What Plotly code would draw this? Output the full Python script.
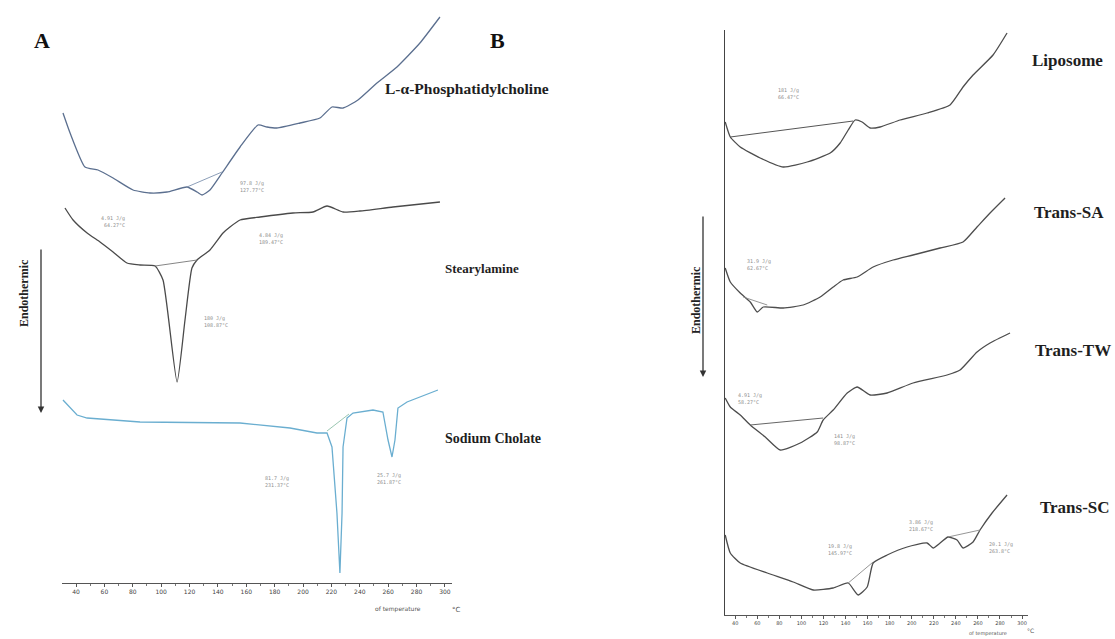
import plotly.graph_objects as go

W, H = 1115, 639

# ---------------- Panel A data (temperature °C, heat flow a.u., stacked) ----------------
pc_T = [30.8, 35.8, 46.3, 55.5, 66.1, 80.2, 92.1, 104.1, 118.2, 125.3, 128.8, 134.4, 142.9,
        155.6, 168.3, 174.6, 181.6, 197.9, 211.9, 220.4, 228.2, 238.7, 252.1, 266.2, 282.4, 296.5]
pc_Y = [47.0, 45.0, 41.6, 41.3, 40.5, 39.3, 39.0, 39.1, 39.6, 39.1, 38.8, 39.3, 41.0,
        43.6, 45.8, 45.6, 45.5, 46.0, 46.5, 47.6, 47.5, 48.3, 50.0, 51.6, 54.0, 56.6]
pc_base_T = [118.2, 142.9]
pc_base_Y = [39.6, 41.1]

sa_T = [32.2, 37.9, 47.8, 56.9, 66.1, 75.9, 85.1, 95.7, 101.3, 111.2, 116.8, 121.7, 125.3,
        134.4, 143.6, 148.5, 155.6, 169.7, 192.9, 207.0, 216.9, 228.2, 240.1, 263.4, 296.5]
sa_Y = [37.5, 36.3, 35.0, 34.1, 33.1, 32.0, 31.8, 31.7, 30.3, 20.1, 26.3, 31.5, 32.3,
        33.3, 35.0, 35.6, 36.3, 36.6, 37.0, 37.1, 37.7, 37.1, 37.2, 37.6, 38.1]
sa_base_T = [95.7, 125.3]
sa_base_Y = [31.7, 32.3]

sc_T = [30.8, 35.8, 40.7, 47.8, 85.1, 155.6, 190.8, 209.8, 216.9, 220.4, 223.9, 226.0, 227.5,
        228.2, 231.0, 235.2, 249.3, 256.3, 259.9, 262.7, 264.8, 266.9, 273.3, 295.1]
sc_Y = [18.3, 17.5, 16.8, 16.5, 16.1, 16.0, 15.5, 15.0, 15.0, 13.6, 7.0, 1.0, 7.0,
        13.6, 16.5, 17.0, 17.3, 17.1, 14.3, 12.6, 14.3, 17.5, 18.1, 19.3]
sc_base_T = [216.9, 232.4]
sc_base_Y = [15.2, 16.9]

# ---------------- Panel B data ----------------
lip_T = [30.9, 35.5, 44.5, 62.6, 83.5, 105.2, 126.1, 135.1, 142.4, 148.7, 155.0, 162.3, 171.3,
         189.5, 213.9, 234.7, 246.5, 255.6, 273.7, 286.4]
lip_Y = [49.3, 47.8, 46.8, 45.7, 44.8, 45.3, 46.2, 47.2, 48.5, 49.5, 49.3, 48.7, 48.8,
         49.5, 50.2, 51.0, 52.8, 54.0, 56.0, 58.2]
lip_base_T = [35.5, 146.9]
lip_base_Y = [47.8, 49.4]

tsa_T = [30.9, 35.5, 44.5, 53.6, 59.9, 65.4, 83.5, 101.6, 117.0, 128.8, 137.8, 150.5, 165.0,
         183.1, 201.2, 225.7, 246.5, 259.2, 271.0, 284.6]
tsa_Y = [34.7, 33.3, 32.2, 31.3, 30.3, 30.8, 30.7, 31.0, 31.8, 32.8, 33.5, 33.8, 34.8,
         35.5, 36.0, 36.7, 37.3, 38.8, 40.2, 41.7]
tsa_base_T = [47.2, 69.0]
tsa_base_Y = [31.8, 31.0]

ttw_T = [30.9, 35.5, 44.5, 53.6, 67.2, 80.8, 98.9, 114.3, 119.7, 128.8, 141.5, 150.5, 162.3,
         177.7, 201.2, 232.0, 243.8, 259.2, 271.0, 289.1]
ttw_Y = [21.7, 20.8, 20.0, 19.0, 17.8, 16.5, 17.2, 18.3, 19.5, 20.5, 22.2, 22.8, 22.0,
         22.2, 23.2, 24.0, 24.5, 26.3, 27.2, 28.2]
ttw_base_T = [53.6, 119.7]
ttw_base_Y = [19.0, 19.7]

tsc_T = [30.9, 35.5, 44.5, 69.0, 92.5, 110.7, 128.8, 142.4, 151.4, 159.6, 165.0, 177.7, 195.8,
         213.9, 219.4, 225.7, 232.9, 241.1, 246.5, 255.6, 261.9, 272.8, 286.4]
tsc_Y = [8.0, 6.2, 5.2, 4.2, 3.3, 2.5, 2.7, 3.2, 2.0, 2.8, 5.2, 6.0, 6.8,
         7.2, 6.7, 7.2, 7.8, 7.5, 6.7, 7.3, 8.5, 10.2, 12.0]
tsc_base1_T = [142.4, 165.0]
tsc_base1_Y = [3.2, 5.3]
tsc_base2_T = [232.9, 261.9]
tsc_base2_Y = [7.8, 8.5]

tick_vals = [40, 60, 80, 100, 120, 140, 160, 180, 200, 220, 240, 260, 280, 300]
tick_text = [str(v) for v in tick_vals]

# peak annotations: (panel, T_left, y, text)
peak_notes = [
    ("A", 154.2, 39.65, "97.8 J/g<br>127.77°C"),
    ("A", 56.2, 36.15, "4.91 J/g<br> 64.27°C"),
    ("A", 167.6, 34.5, "4.84 J/g<br>189.47°C"),
    ("A", 128.8, 26.15, "180 J/g<br>108.87°C"),
    ("A", 171.8, 10.2, "81.7 J/g<br>231.37°C"),
    ("A", 250.7, 10.45, "25.7 J/g<br>261.87°C"),
    ("B", 77.1, 52.2, "181 J/g<br>66.47°C"),
    ("B", 49.1, 35.1, "31.9 J/g<br>62.67°C"),
    ("B", 40.9, 21.65, "4.91 J/g<br>58.27°C"),
    ("B", 127.9, 17.6, "141 J/g<br>98.87°C"),
    ("B", 122.4, 6.55, "19.8 J/g<br>145.97°C"),
    ("B", 195.8, 8.95, "3.86 J/g<br>218.67°C"),
    ("B", 268.3, 6.8, "20.1 J/g<br>263.8°C"),
]

sample_labels = [
    ("L-α-Phosphatidylcholine", 383, 88, 15.5),
    ("Stearylamine", 443, 268, 13),
    ("Sodium Cholate", 443, 438, 14),
    ("Liposome", 1030, 60, 17),
    ("Trans-SA", 1032, 212, 17),
    ("Trans-TW", 1033, 350, 17),
    ("Trans-SC", 1038, 507, 17),
]

fig = go.Figure()

def line(xs, ys, color, width=1.3, panel="A", smooth=True):
    fig.add_trace(go.Scatter(x=xs, y=ys, mode="lines",
                             line=dict(color=color, width=width,
                                       shape="spline" if smooth else "linear",
                                       smoothing=0.5),
                             xaxis="x" if panel == "A" else "x2",
                             yaxis="y" if panel == "A" else "y2",
                             hoverinfo="skip", showlegend=False))

PC_COL = "#5b6f8f"
SA_COL = "#4a4a4a"
SC_COL = "#6aaed0"
B_COL = "#4d4d4d"
BASE_COL = "#8a8a8a"

line(pc_T, pc_Y, PC_COL)
line(pc_base_T, pc_base_Y, "#7f93b0", 0.9, smooth=False)
line(sa_T, sa_Y, SA_COL)
line(sa_base_T, sa_base_Y, "#777777", 0.9, smooth=False)
line(sc_T, sc_Y, SC_COL, smooth=False)
line(sc_base_T, sc_base_Y, "#8fc0a8", 0.9, smooth=False)

line(lip_T, lip_Y, B_COL, panel="B")
line(lip_base_T, lip_base_Y, "#555555", 1.0, panel="B", smooth=False)
line(tsa_T, tsa_Y, B_COL, panel="B")
line(tsa_base_T, tsa_base_Y, BASE_COL, 0.9, panel="B", smooth=False)
line(ttw_T, ttw_Y, B_COL, panel="B")
line(ttw_base_T, ttw_base_Y, "#666666", 1.0, panel="B", smooth=False)
line(tsc_T, tsc_Y, B_COL, panel="B")
line(tsc_base1_T, tsc_base1_Y, BASE_COL, 0.9, panel="B", smooth=False)
line(tsc_base2_T, tsc_base2_Y, BASE_COL, 0.9, panel="B", smooth=False)

ann = []
for panel, t, y, txt in peak_notes:
    ann.append(dict(x=t, y=y, xref="x" if panel == "A" else "x2",
                    yref="y" if panel == "A" else "y2", text=txt, showarrow=False,
                    xanchor="left", yanchor="middle", align="left",
                    font=dict(family="DejaVu Sans Mono", size=5, color="#8c8c8c")))

for txt, px, py, fs in sample_labels:
    ann.append(dict(x=px / W, y=1 - py / H, xref="paper", yref="paper", text="<b>%s</b>" % txt,
                    showarrow=False, xanchor="left", yanchor="middle",
                    font=dict(family="Liberation Serif", size=fs, color="#1e1e1e")))

for letter, px in (("A", 42), ("B", 497)):
    ann.append(dict(x=px / W, y=1 - 40 / H, xref="paper", yref="paper", text="<b>%s</b>" % letter,
                    showarrow=False, xanchor="center", yanchor="middle",
                    font=dict(family="Liberation Serif", size=22, color="#111111")))

for px, py in ((24, 293), (696, 300)):
    ann.append(dict(x=px / W, y=1 - py / H, xref="paper", yref="paper", text="<b>Endothermic</b>",
                    textangle=-90, showarrow=False, xanchor="center", yanchor="middle",
                    font=dict(family="Liberation Serif", size=12, color="#222222")))

for px, head, tail in ((41, 413, 248), (703, 377, 215)):
    ann.append(dict(x=px / W, y=1 - head / H, xref="paper", yref="paper", text="",
                    showarrow=True, ax=0, ay=-(head - tail), axref="pixel", ayref="pixel",
                    arrowhead=2, arrowsize=1.0, arrowwidth=1.3, arrowcolor="#333333"))

# axis captions
for txt, px, py, fs in (("of temperature", 398, 609, 6), ("°C", 457, 610, 7),
                        ("of temperature", 988, 633, 5), ("°C", 1030, 630, 6)):
    ann.append(dict(x=px / W, y=1 - py / H, xref="paper", yref="paper", text=txt,
                    showarrow=False, xanchor="center", yanchor="middle",
                    font=dict(family="DejaVu Sans", size=fs, color="#555555")))

axis_common = dict(showgrid=False, zeroline=False, showline=True, linecolor="#555555",
                   linewidth=1, ticks="outside", ticklen=3, tickcolor="#555555",
                   tickvals=tick_vals, ticktext=tick_text,
                   minor=dict(ticks="outside", ticklen=2, dtick=10, tickcolor="#777777"))

fig.update_layout(
    width=W, height=H, margin=dict(l=0, r=0, t=0, b=0),
    paper_bgcolor="white", plot_bgcolor="white",
    xaxis=dict(domain=[62 / W, 452 / W], range=[30.1, 305.0], anchor="y",
               tickfont=dict(family="DejaVu Sans", size=6, color="#444444"), **axis_common),
    yaxis=dict(domain=[56 / H, 1], range=[0, 58.3], visible=False),
    xaxis2=dict(domain=[725 / W, 1028 / W], range=[30.7, 305.4], anchor="y2",
                tickfont=dict(family="DejaVu Sans", size=5, color="#444444"), **axis_common),
    yaxis2=dict(domain=[24 / H, 609 / H], range=[0, 58.5], anchor="x2", showgrid=False,
                zeroline=False, showline=True, linecolor="#444444", linewidth=1.2,
                showticklabels=False, ticks=""),
    annotations=ann,
)

fig.write_html("out.html")
